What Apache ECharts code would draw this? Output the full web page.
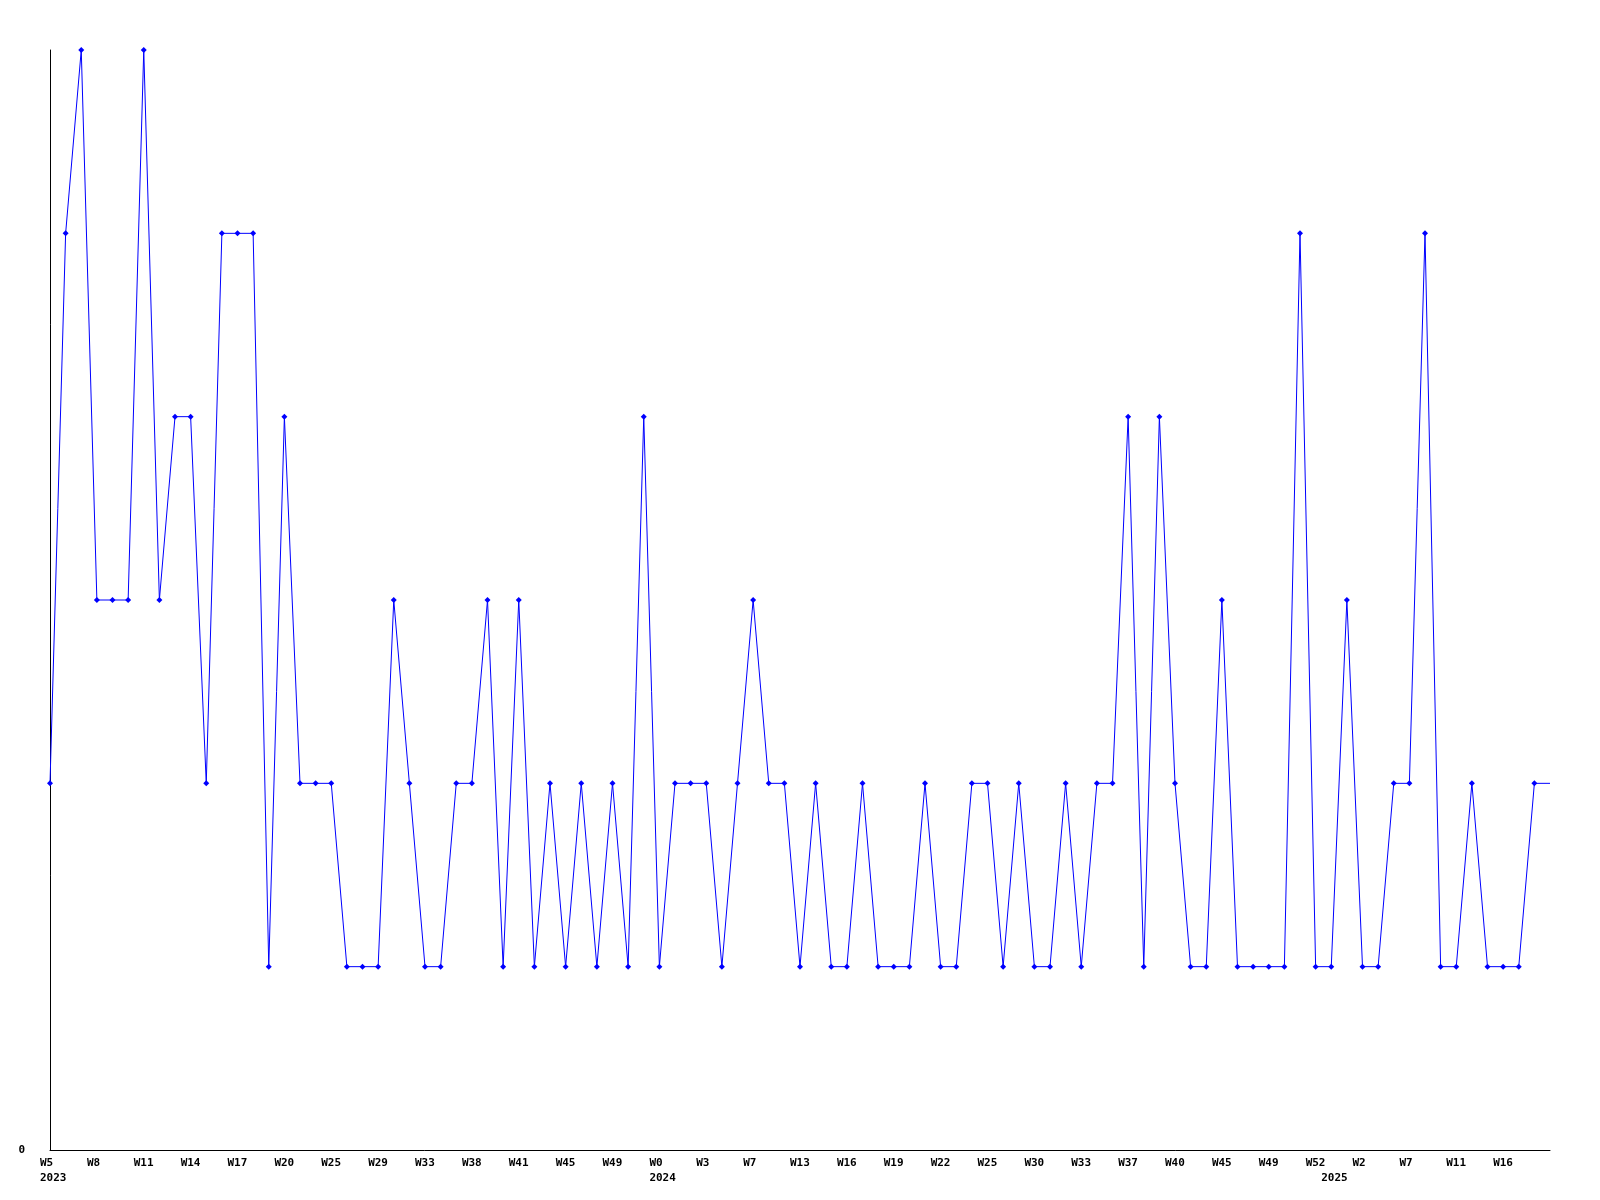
<!DOCTYPE html>
<html>
<head>
<meta charset="utf-8">
<script src="https://cdn.jsdelivr.net/npm/echarts@6/dist/echarts.min.js"></script>
<style>
  html, body { margin: 0; padding: 0; background: #ffffff; }
  #chart { width: 1600px; height: 1200px; }
</style>
</head>
<body>
<div id="chart"></div>
<script>
// Series values, one per week
const values = [
  2,5,6,3,3,3,6,3,4,4,
  2,5,5,5,1,4,2,2,2,1,
  1,1,3,2,1,1,2,2,3,1,
  3,1,2,1,2,1,2,1,4,1,
  2,2,2,1,2,3,2,2,1,2,
  1,1,2,1,1,1,2,1,1,2,
  2,1,2,1,1,2,1,2,2,4,
  1,4,2,1,1,3,1,1,1,1,
  5,1,1,3,1,1,2,2,5,1,
  1,2,1,1,1,2,2
];
// Week tick labels, shown on every third category
const tickLabels = [
  'W5','W8','W11','W14','W17','W20','W25','W29','W33','W38','W41','W45','W49',
  'W0','W3','W7','W13','W16','W19','W22','W25','W30','W33','W37','W40','W45','W49','W52',
  'W2','W7','W11','W16'
];
const tickStep = 3;
// Year labels and the category index where each year starts
const yearLabels = ['2023', '2024', '2025'];
const yearStartIndex = [0, 39, 82];

const categories = values.map((_, i) => String(i));

const font = {
  fontFamily: 'DejaVu Sans Mono',
  fontWeight: 'bold',
  fontSize: 11,
  color: '#000000'
};

const chart = echarts.init(document.getElementById('chart'), null, { renderer: 'canvas' });
chart.setOption({
  animation: false,
  backgroundColor: '#ffffff',
  grid: { left: 50, right: 50, top: 50, bottom: 50, containLabel: false },
  xAxis: [
    {
      type: 'category',
      data: categories,
      boundaryGap: false,
      axisLine: { show: true, lineStyle: { color: '#000000', width: 1 } },
      axisTick: { show: false },
      splitLine: { show: false },
      axisLabel: Object.assign({}, font, {
        interval: (i) => i % tickStep === 0 && tickLabels[i / tickStep] !== undefined,
        formatter: (v, i) => tickLabels[i / tickStep] || '',
        margin: 8,
        align: 'left',
        padding: [0, 0, 0, -10]
      })
    },
    {
      type: 'category',
      data: categories,
      boundaryGap: false,
      position: 'bottom',
      offset: 15,
      axisLine: { show: false },
      axisTick: { show: false },
      splitLine: { show: false },
      axisLabel: Object.assign({}, font, {
        interval: (i) => yearStartIndex.indexOf(i) >= 0,
        formatter: (v, i) => {
          const k = yearStartIndex.indexOf(i);
          return k >= 0 ? yearLabels[k] : '';
        },
        margin: 8,
        align: 'left',
        padding: [0, 0, 0, -10]
      })
    }
  ],
  yAxis: {
    type: 'value',
    min: 0,
    max: 6,
    interval: 6,
    axisLine: { show: true, lineStyle: { color: '#000000', width: 1 } },
    axisTick: { show: false },
    splitLine: { show: false },
    axisLabel: Object.assign({}, font, {
      margin: 25,
      formatter: (v) => (v === 0 ? '0' : '')
    })
  },
  series: [{
    type: 'line',
    xAxisIndex: 0,
    data: values,
    smooth: false,
    symbol: (val, params) => (params.dataIndex === values.length - 1 ? 'none' : 'diamond'),
    symbolSize: 6,
    showAllSymbol: true,
    lineStyle: { color: '#0000ff', width: 1 },
    itemStyle: { color: '#0000ff' },
    clip: false
  }]
});
</script>
</body>
</html>
